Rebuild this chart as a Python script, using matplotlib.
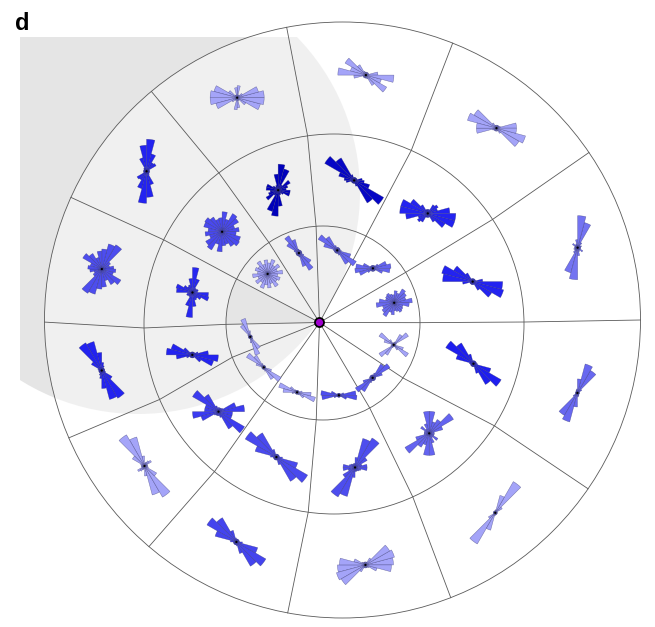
import numpy as np
import matplotlib.pyplot as plt
from matplotlib.patches import Circle, Wedge, Rectangle, Polygon
from matplotlib.colors import LinearSegmentedColormap

W, H = 655, 627

# layout of the polar grid, in pixel units (y grows downwards)
origin = (319.5, 322.5)
ring_centres = [(323.0, 323.0), (334.0, 324.0), (342.5, 320.0)]
ring_radii = [97.0, 190.0, 298.0]
rose_radii = [74.0, 145.0, 246.0]
# sector boundaries on each ring, degrees counter-clockwise from east
inner_edges = [0.2, 31.5, 63.7, 94.1, 123.9, 153.0, 180.8, 200.7, 233.0, 266.0, 298.8, 325.5]
middle_edges = [0.6, 33.4, 66.0, 98.0, 127.3, 153.7, 181.2, 203.4, 231.0, 262.2, 294.5, 327.6]
outer_edges = [0.0, 34.2, 68.3, 100.8, 129.9, 155.7, 180.4, 203.3, 229.5, 259.4, 291.3, 325.5]

# shaded region (embryo side)
shade_centre = (138.0, 192.0)
shade_radius = 222.0

# axial orientation histograms, 12 bins of 15 deg over 0-180 (mirrored)
inner_roses = [
    [18, 12, 14, 16, 10, 12, 8, 9, 11, 10, 9, 15],
    [18, 14, 6, 3, 3, 3, 3, 3, 3, 3, 10, 17],
    [3, 3, 3, 3, 3, 3, 3, 5, 16, 22, 14, 4],
    [3, 3, 3, 3, 3, 3, 4, 14, 20, 14, 5, 3],
    [15, 10, 14, 10, 15, 11, 14, 10, 15, 11, 13, 10],
    None,
    [2, 2, 2, 2, 2, 2, 6, 19, 14, 3, 2, 2],
    [2, 2, 2, 2, 2, 2, 2, 4, 14, 20, 8, 2],
    [5, 2, 2, 2, 2, 2, 2, 2, 3, 8, 19, 14],
    [17, 5, 2, 2, 2, 2, 2, 2, 2, 2, 8, 18],
    [3, 10, 20, 16, 5, 3, 3, 3, 3, 3, 3, 3],
    [2, 3, 17, 12, 3, 2, 2, 2, 6, 17, 10, 2],
]
middle_roses = [
    [10, 3, 3, 3, 3, 3, 3, 3, 10, 22, 32, 30],
    [22, 10, 12, 10, 4, 4, 4, 4, 10, 20, 28, 28],
    [8, 3, 3, 3, 3, 3, 3, 6, 26, 34, 16, 10],
    [8, 10, 14, 6, 22, 26, 16, 5, 4, 6, 12, 12],
    [17, 13, 19, 21, 13, 20, 14, 13, 17, 20, 19, 14],
    [5, 6, 5, 5, 14, 25, 14, 8, 7, 10, 17, 16],
    [16, 6, 3, 3, 3, 3, 3, 3, 3, 10, 22, 26],
    [26, 18, 5, 4, 4, 4, 4, 6, 20, 30, 14, 14],
    [3, 3, 3, 3, 3, 3, 3, 8, 28, 36, 22, 6],
    [12, 7, 14, 34, 30, 10, 4, 4, 4, 5, 6, 12],
    [5, 14, 28, 16, 12, 22, 22, 10, 5, 10, 5, 5],
    [3, 3, 3, 3, 3, 3, 3, 10, 24, 32, 18, 4],
]
outer_roses = [
    [3, 4, 3, 6, 26, 32, 8, 4, 3, 6, 3, 3],
    [20, 4, 3, 3, 3, 3, 3, 3, 6, 26, 30, 20],
    [12, 3, 3, 3, 3, 3, 3, 4, 12, 24, 16, 28],
    [27, 22, 6, 3, 3, 12, 10, 3, 3, 10, 24, 27],
    [3, 3, 11, 10, 18, 32, 26, 14, 4, 3, 3, 3],
    [12, 8, 10, 28, 26, 20, 18, 12, 18, 22, 12, 14],
    [3, 3, 3, 3, 5, 8, 18, 30, 32, 12, 4, 3],
    [3, 3, 8, 6, 4, 3, 10, 30, 36, 14, 4, 3],
    [3, 3, 3, 3, 3, 3, 4, 12, 28, 34, 22, 6],
    [28, 30, 28, 8, 3, 3, 3, 3, 3, 4, 12, 26],
    [2, 2, 8, 36, 18, 3, 2, 2, 2, 2, 2, 2],
    [2, 2, 5, 26, 30, 14, 4, 3, 2, 2, 2, 2],
]
# colour level of each rose (0 = pale, 1 = saturated)
inner_level = [0.35, 0.38, 0.36, 0.35, 0.0, 0.0, 0.0, 0.0, 0.0, 0.5, 0.42, 0.0]
middle_level = [0.72, 0.72, 0.95, 1.0, 0.52, 0.7, 0.72, 0.6, 0.52, 0.5, 0.38, 0.75]
outer_level = [0.3, 0.0, 0.0, 0.0, 0.72, 0.5, 0.72, 0.0, 0.55, 0.0, 0.0, 0.36]

rose_scale = 1.0
bin_width = 15

blues = LinearSegmentedColormap.from_list(
    'roses', [(0.0, '#a4a4f8'), (0.35, '#6a6af0'), (0.55, '#4444ee'),
              (0.75, '#1e1ef0'), (1.0, '#0000bb')])


def pt(c, r, ang):
    t = np.radians(ang)
    return c[0] + r * np.cos(t), c[1] - r * np.sin(t)


def arc(c, r, a0, a1, n=40):
    t = np.radians(np.linspace(a0, a1, n))
    return np.column_stack([c[0] + r * np.cos(t), c[1] - r * np.sin(t)])


def span(edges, k):
    a0 = edges[k]
    a1 = edges[(k + 1) % len(edges)]
    if a1 <= a0:
        a1 += 360
    return a0, a1


def draw_rose(ax, x, y, counts, colour):
    for k, v in enumerate(counts):
        for base in (0, 180):
            a = base + k * bin_width
            ax.add_patch(Wedge((x, y), v * rose_scale, -(a + bin_width), -a,
                               fc=colour, ec=(0.15, 0.15, 0.4, 0.55), lw=0.35,
                               zorder=3))
    ax.add_patch(Circle((x, y), 1.1, fc='k', ec='none', zorder=3.5))


fig = plt.figure(figsize=(W / 100, H / 100), dpi=100)
ax = fig.add_axes([0, 0, 1, 1])
ax.set_xlim(0, W)
ax.set_ylim(H, 0)
ax.axis('off')

clip = Rectangle((20, 37), 800, 800, transform=ax.transData)
shade = Circle(shade_centre, shade_radius, fc='#e5e5e5', ec='none', zorder=0)
ax.add_patch(shade)
shade.set_clip_path(clip)

all_edges = [inner_edges, middle_edges, outer_edges]
all_roses = [inner_roses, middle_roses, outer_roses]
all_levels = [inner_level, middle_level, outer_level]

# lighten every populated sector; empty ones keep the grey underneath
for i in range(3):
    edges = all_edges[i]
    for k in range(12):
        if all_roses[i][k] is None:
            continue
        a0, a1 = span(edges, k)
        outer = arc(ring_centres[i], ring_radii[i], a0, a1)
        if i == 0:
            inner = np.array([origin])
        else:
            b0, b1 = span(all_edges[i - 1], k)
            inner = arc(ring_centres[i - 1], ring_radii[i - 1], b1, b0)
        ax.add_patch(Polygon(np.vstack([outer, inner]), closed=True,
                             fc='white', alpha=0.45, ec='none', zorder=1))

for c, r in zip(ring_centres, ring_radii):
    ax.add_patch(Circle(c, r, fill=False, ec='#5a5a5a', lw=0.6, zorder=2))

for k in range(12):
    pts = [origin] + [pt(ring_centres[i], ring_radii[i], all_edges[i][k]) for i in range(3)]
    xs, ys = zip(*pts)
    ax.plot(xs, ys, color='#5a5a5a', lw=0.6, zorder=2)

for i in range(3):
    for k in range(12):
        counts = all_roses[i][k]
        if counts is None:
            continue
        a0, a1 = span(all_edges[i], k)
        x, y = pt(ring_centres[i], rose_radii[i], (a0 + a1) / 2)
        draw_rose(ax, x, y, counts, blues(all_levels[i][k]))

ax.add_patch(Circle(origin, 4.5, fc='#a000d0', ec='black', lw=1.3, zorder=5))

ax.text(15, 30, 'd', fontsize=17, fontweight='bold', family='Liberation Sans',
        va='baseline', ha='left')

fig.savefig('out.png', dpi=100)
